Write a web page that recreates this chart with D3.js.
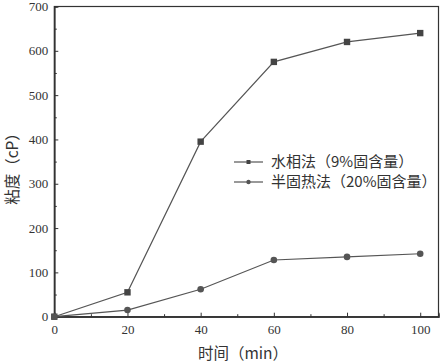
<!DOCTYPE html>
<html><head><meta charset="utf-8">
<script src="https://cdn.jsdelivr.net/npm/d3@7"></script>
<style>body{margin:0;background:#fff}</style>
</head><body>
<script>
const times = [0, 20, 40, 60, 80, 100];
const seriesA = [0, 55, 395, 575, 620, 640];
const seriesB = [0, 15, 62, 128, 135, 142];
const seriesNames = ["水相法（9%固含量）", "半固热法（20%固含量）"];
const xTicks = [0, 20, 40, 60, 80, 100];
const yTicks = [0, 100, 200, 300, 400, 500, 600, 700];

const W = 443, H = 364;
const svg = d3.select("body").append("svg").attr("width", W).attr("height", H);
const x = d3.scaleLinear().domain([0, 105]).range([54.3, 438.5]);
const y = d3.scaleLinear().domain([0, 700]).range([316.7, 6.5]);
const col = "#555", axisCol = "#333";
const numFont = "'Liberation Serif', 'DejaVu Serif', serif";
const cjkFont = "'Noto Sans CJK SC', sans-serif";

// frame
svg.append("rect").attr("x", x(0)).attr("y", y(700)).attr("width", x(105) - x(0)).attr("height", y(0) - y(700))
  .attr("fill", "none").attr("stroke", axisCol).attr("stroke-width", 1.2);

// axes with inward ticks
const xAxis = d3.axisBottom(x).tickValues(xTicks).tickSize(-4).tickPadding(8).tickFormat(d3.format("d"));
svg.append("g").attr("transform", `translate(0,${y(0)})`).call(xAxis);
const xMinor = d3.axisBottom(x).tickValues([10, 30, 50, 70, 90]).tickSize(-2.5).tickFormat("");
svg.append("g").attr("transform", `translate(0,${y(0)})`).call(xMinor);
const yAxis = d3.axisLeft(y).tickValues(yTicks).tickSize(-4).tickPadding(6).tickFormat(d3.format("d"));
svg.append("g").attr("transform", `translate(${x(0)},0)`).call(yAxis);
const yMinor = d3.axisLeft(y).tickValues([50, 150, 250, 350, 450, 550, 650]).tickSize(-2.5).tickFormat("");
svg.append("g").attr("transform", `translate(${x(0)},0)`).call(yMinor);
svg.selectAll(".domain").attr("stroke", axisCol).attr("stroke-width", 1.2);
svg.selectAll(".tick line").attr("stroke", axisCol);
svg.selectAll(".tick text").attr("font-family", numFont).attr("font-size", 13).attr("fill", "#333");

// lines
const line = d3.line().x((d, i) => x(times[i])).y(d => y(d));
svg.append("path").datum(seriesA).attr("d", line).attr("fill", "none").attr("stroke", col).attr("stroke-width", 1.2);
svg.append("path").datum(seriesB).attr("d", line).attr("fill", "none").attr("stroke", col).attr("stroke-width", 1.2);
svg.selectAll(".sq").data(seriesA).enter().append("rect")
  .attr("x", (d, i) => x(times[i]) - 3.2).attr("y", d => y(d) - 3.2).attr("width", 6.4).attr("height", 6.4).attr("fill", "#444");
svg.selectAll(".ci").data(seriesB).enter().append("circle")
  .attr("cx", (d, i) => x(times[i])).attr("cy", d => y(d)).attr("r", 3.3).attr("fill", "#555");

// legend
const lg = svg.append("g");
[0, 1].forEach(k => {
  const ly = 162 + k * 20;
  lg.append("line").attr("x1", 234).attr("x2", 263).attr("y1", ly).attr("y2", ly).attr("stroke", col).attr("stroke-width", 1.2);
  if (k === 0) lg.append("rect").attr("x", 248.5 - 2).attr("y", ly - 2).attr("width", 4).attr("height", 4).attr("fill", "#444");
  else lg.append("circle").attr("cx", 248.5).attr("cy", ly).attr("r", 2.2).attr("fill", "#555");
  lg.append("text").attr("x", 271).attr("y", ly + 5).attr("font-family", cjkFont).attr("font-size", 15)
    .attr("fill", "#333").text(seriesNames[k]);
});

// axis titles
svg.append("text").attr("x", 243).attr("y", 359).attr("text-anchor", "middle")
  .attr("font-family", cjkFont).attr("font-size", 15.5).attr("fill", "#333").text("时间（min）");
svg.append("text").attr("transform", `translate(18,${165}) rotate(-90)`).attr("text-anchor", "middle")
  .attr("font-family", cjkFont).attr("font-size", 15.5).attr("fill", "#333").text("粘度（cP）");
</script>
</body></html>
